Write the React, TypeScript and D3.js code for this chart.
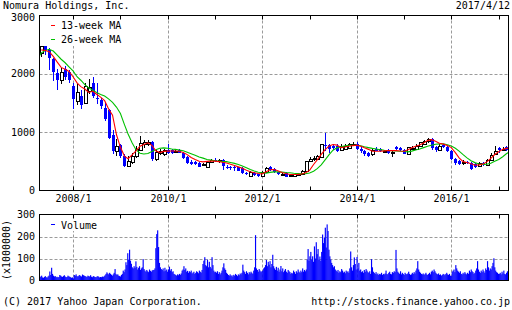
import React from "react";
import * as d3 from "d3";

const chartTitle = "Nomura Holdings, Inc.";
const chartDate = "2017/4/12";
const footerLeft = "(C) 2017 Yahoo Japan Corporation.";
const footerRight = "http://stocks.finance.yahoo.co.jp";
const volumeUnit = "(x1000000)";

const priceTicks = [0, 1000, 2000, 3000];
const priceGrid = [1000, 2000];
const volumeTicks = [0, 100, 200, 300];
const volumeGrid = [100, 200];
const labelYears = [2008, 2010, 2012, 2014, 2016];
const tickYears = [2008, 2009, 2010, 2011, 2012, 2013, 2014, 2015, 2016, 2017];
const legendNames = ["13-week MA", "26-week MA"];
const legendColors = ["#ff0000", "#00c000"];

// monthly candles, May 2007 .. Apr 2017
const opens = [
  2360, 2500, 2410, 2260, 2020, 1900, 2080, 2040,
  1800, 1530, 1620, 1500, 1700, 1850, 1580, 1560, 1420, 1380, 950, 680,
  780, 600, 420, 490, 600, 700, 800, 790, 830, 545, 640, 620,
  700, 700, 670, 690, 646, 577, 490, 490, 474, 440, 400, 480,
  530, 500, 530, 410, 400, 400, 400, 389, 300, 257, 300, 280,
  246, 320, 400, 370, 310, 270, 300, 250, 255, 270, 280, 340,
  510, 540, 535, 580, 780, 777, 770, 760, 690, 720, 730, 780,
  800, 720, 680, 640, 620, 720, 710, 670, 690, 650, 745, 730,
  700, 630, 720, 705, 765, 790, 850, 875, 740, 690, 785, 750,
  670, 540, 500, 470, 490, 474, 450, 415, 470, 445, 530, 630,
  730, 700, 750, 700,
];
const highs = [
  2550, 2550, 2440, 2280, 2080, 2100, 2130, 2060,
  1840, 1820, 1720, 1850, 1910, 1940, 1850, 1580, 1500, 1400, 1040, 880,
  800, 620, 600, 640, 760, 930, 860, 860, 850, 700, 720, 710,
  790, 720, 700, 720, 660, 590, 520, 510, 490, 470, 500, 540,
  560, 540, 545, 430, 420, 420, 410, 400, 320, 330, 320, 290,
  330, 400, 420, 380, 320, 300, 310, 280, 290, 300, 350, 510,
  570, 600, 610, 800, 990, 800, 800, 790, 790, 800, 820, 830,
  830, 740, 700, 660, 720, 740, 730, 700, 710, 690, 760, 750,
  710, 750, 760, 790, 840, 870, 900, 900, 770, 790, 800, 770,
  690, 560, 530, 520, 510, 490, 470, 480, 490, 540, 640, 760,
  750, 750, 770, 710,
];
const lows = [
  2290, 2330, 2070, 1870, 1730, 1820, 1900, 1840,
  1390, 1470, 1390, 1480, 1660, 1580, 1480, 1390, 1200, 880, 620, 600,
  560, 400, 400, 460, 560, 680, 730, 760, 500, 500, 610, 600,
  620, 620, 640, 640, 540, 460, 440, 440, 400, 420, 390, 470,
  480, 470, 345, 370, 350, 330, 330, 290, 260, 240, 250, 240,
  240, 310, 340, 300, 270, 250, 230, 240, 250, 260, 270, 330,
  490, 510, 520, 560, 680, 640, 700, 660, 680, 700, 720, 760,
  690, 650, 600, 580, 600, 670, 660, 640, 630, 570, 690, 680,
  620, 620, 700, 700, 750, 780, 820, 700, 660, 680, 730, 660,
  520, 440, 440, 440, 460, 355, 390, 400, 420, 430, 500, 610,
  650, 680, 680, 640,
];
const closes = [
  2470, 2400, 2275, 2030, 1900, 2030, 1940, 1900,
  1570, 1690, 1470, 1790, 1780, 1620, 1570, 1450, 1220, 900, 680, 760,
  600, 420, 510, 600, 720, 820, 830, 830, 545, 660, 680, 700,
  650, 650, 675, 650, 560, 474, 460, 460, 410, 450, 490, 530,
  500, 530, 420, 385, 390, 380, 340, 303, 280, 314, 260, 250,
  320, 389, 350, 310, 285, 285, 240, 265, 275, 285, 340, 500,
  540, 550, 590, 790, 760, 703, 730, 680, 770, 760, 800, 800,
  703, 680, 620, 600, 700, 680, 670, 675, 650, 665, 705, 690,
  630, 740, 730, 770, 825, 845, 880, 730, 690, 770, 745, 675,
  540, 474, 450, 480, 470, 370, 400, 470, 440, 530, 615, 685,
  700, 720, 690, 660,
];

// 13-week MA, monthly readings May 2007 .. Apr 2017
const ma13 = [
  2410, 2400, 2380, 2300, 2200, 2110, 2080, 2040,
  1950, 1845, 1780, 1740, 1680, 1700, 1650, 1600, 1540, 1400, 1290, 960,
  740, 590, 545, 610, 680, 760, 790, 817, 775, 680, 650, 670,
  675, 678, 676, 674, 650, 615, 565, 530, 500, 490, 500, 503,
  503, 495, 485, 470, 450, 428, 405, 380, 348, 320, 305, 292,
  285, 320, 355, 360, 340, 310, 290, 274, 274, 276, 284, 305,
  345, 446, 525, 620, 700, 765, 789, 778, 735, 745, 758, 770,
  777, 760, 731, 705, 674, 674, 674, 680, 686, 684, 684, 678,
  674, 700, 733, 757, 780, 815, 855, 872, 845, 810, 795, 770,
  735, 650, 560, 495, 480, 460, 434, 440, 455, 490, 550, 617,
  665, 705, 722, 735,
];
// 26-week MA, monthly readings Apr 2007 .. Apr 2017
const ma26 = [
  2250, 2360, 2400, 2420, 2390, 2320, 2250, 2190, 2120,
  2050, 1950, 1890, 1815, 1760, 1720, 1680, 1645, 1620, 1570, 1510, 1430,
  1320, 1130, 970, 820, 700, 640, 625, 635, 670, 700, 725, 730,
  725, 712, 705, 695, 680, 655, 630, 605, 575, 555, 530, 520,
  510, 503, 498, 495, 480, 465, 446, 420, 390, 360, 335, 314,
  305, 298, 310, 320, 320, 315, 308, 303, 295, 290, 286, 286,
  300, 330, 375, 440, 525, 615, 690, 731, 750, 765, 775, 777,
  777, 765, 750, 735, 722, 712, 700, 690, 686, 682, 676, 672,
  668, 663, 675, 693, 712, 735, 758, 775, 792, 800, 800, 785,
  762, 725, 675, 615, 560, 510, 478, 455, 448, 450, 468, 500,
  531, 578, 630, 670,
];

// weekly volume (millions), one array per calendar year
const vol2007 = [15, 18, 22, 14, 12, 16, 20, 15, 13, 18, 22, 41, 25, 58, 30, 22, 18, 20, 15, 17, 14, 16, 25, 22, 18, 16, 20, 24, 18, 15, 16, 22, 19, 17, 15, 12, 14, 10];
const vol2008 = [25, 22, 28, 20, 18, 22, 25, 20, 18, 27, 24, 22, 20, 18, 16, 22, 20, 18, 24, 17, 15, 20, 18, 16, 15, 18, 20, 17, 14, 16, 15, 18, 16, 20, 24, 30, 37, 32, 28, 35, 30, 26, 22, 28, 35, 52, 30, 25, 28, 22, 20, 18];
const vol2009 = [25, 30, 45, 38, 50, 83, 70, 124, 95, 140, 90, 76, 60, 55, 65, 58, 87, 62, 50, 58, 65, 48, 55, 60, 97, 52, 45, 40, 48, 42, 38, 50, 44, 40, 46, 48, 48, 55, 147, 211, 228, 152, 80, 60, 52, 48, 55, 42, 58, 45, 50, 40];
const vol2010 = [50, 63, 45, 52, 38, 42, 30, 28, 25, 22, 28, 24, 30, 26, 32, 45, 50, 65, 48, 55, 40, 44, 35, 42, 38, 45, 32, 36, 40, 30, 35, 42, 38, 33, 45, 40, 36, 48, 75, 90, 106, 70, 65, 95, 60, 85, 62, 55, 106, 70, 45, 38];
const vol2011 = [40, 35, 42, 30, 38, 28, 35, 45, 60, 78, 55, 48, 35, 30, 25, 22, 28, 20, 24, 18, 26, 22, 30, 25, 20, 28, 24, 32, 28, 35, 72, 45, 38, 30, 42, 35, 28, 38, 32, 40, 35, 30, 45, 60, 206, 55, 48, 40, 52, 45, 38, 42];
const vol2012 = [45, 55, 60, 70, 93, 65, 85, 72, 88, 60, 75, 117, 65, 55, 48, 62, 45, 58, 40, 50, 66, 42, 55, 38, 45, 52, 40, 35, 48, 42, 38, 30, 35, 32, 45, 38, 30, 42, 36, 50, 40, 35, 45, 38, 55, 40, 48, 42, 50, 95, 143, 90, 110];
const vol2013 = [130, 95, 110, 85, 155, 100, 174, 120, 143, 95, 109, 90, 130, 209, 170, 195, 240, 150, 255, 225, 140, 110, 95, 80, 70, 60, 65, 50, 45, 40, 48, 35, 42, 38, 52, 45, 36, 40, 33, 45, 38, 42, 35, 55, 132, 60, 45, 70, 105, 75, 50, 107];
const vol2014 = [55, 80, 45, 50, 38, 42, 35, 48, 40, 52, 45, 38, 35, 42, 30, 97, 60, 40, 35, 30, 38, 28, 32, 25, 30, 28, 35, 25, 30, 28, 32, 45, 30, 28, 35, 40, 30, 28, 38, 35, 42, 38, 139, 55, 40, 35, 30, 42, 28, 35, 30, 25];
const vol2015 = [35, 30, 28, 32, 40, 30, 25, 28, 35, 30, 38, 32, 45, 55, 88, 50, 40, 35, 30, 28, 32, 25, 30, 35, 28, 25, 30, 35, 28, 40, 45, 38, 50, 42, 35, 30, 28, 32, 25, 28, 22, 25, 30, 28, 24, 30, 35, 28, 25, 30, 22, 20];
const vol2016 = [40, 45, 50, 38, 70, 55, 45, 40, 35, 42, 30, 28, 35, 30, 38, 32, 28, 35, 30, 45, 38, 50, 42, 38, 30, 35, 45, 55, 88, 50, 40, 35, 45, 38, 50, 42, 35, 55, 48, 88, 60, 45, 55, 50, 65, 80, 101, 60, 45, 38, 35, 30];
const vol2017 = [30, 35, 28, 40, 32, 45, 30, 28, 35, 42, 30, 25, 30, 28];
const volumeStarts = ["2007-04-16", "2008-01-07", "2009-01-05", "2010-01-04", "2011-01-03", "2012-01-02", "2013-01-07", "2014-01-06", "2015-01-05", "2016-01-04", "2017-01-02"];
const volumeYears = [vol2007, vol2008, vol2009, vol2010, vol2011, vol2012, vol2013, vol2014, vol2015, vol2016, vol2017];

const FONT = "'DejaVu Sans Mono', 'Liberation Mono', monospace";
const BLUE = "#0000ff";
const GRID = "#9a9a9a";

export default function App() {
  const parseDay = d3.timeParse("%Y-%m-%d");
  const L = 39.5, R = 508.5, PT = 15.5, PB = 190.5, VT = 214.5, VB = 280.5;
  const x = d3.scaleTime().domain([new Date(2007, 3, 13), new Date(2017, 2, 16)]).range([39, 508.3]);
  const yP = d3.scaleLinear().domain([0, 3000]).range([PB, PT]);
  const yV = d3.scaleLinear().domain([0, 300]).range([VB, VT]);

  const months = d3.timeMonth.range(new Date(2007, 4, 1), new Date(2017, 4, 1));
  const maMonths = d3.timeMonth.range(new Date(2007, 3, 1), new Date(2017, 4, 1));

  const candles = months.map((m, i) => ({ m, o: opens[i], h: highs[i], l: lows[i], c: closes[i] }));
  const line = d3.line<[Date, number]>().x((d) => x(d[0])).y((d) => yP(d[1]));
  const ma13Path = line(months.map((m, i) => [m, ma13[i]] as [Date, number])) || "";
  const ma26Path = line(maMonths.map((m, i) => [m, ma26[i]] as [Date, number])) || "";

  const weeks: { d: Date; v: number }[] = [];
  volumeYears.forEach((vals, k) => {
    const s = parseDay(volumeStarts[k]) as Date;
    vals.forEach((v, i) => weeks.push({ d: d3.timeWeek.offset(s, i), v }));
  });

  const yearX = (y: number) => Math.round(x(new Date(y, 0, 1))) + 0.5;

  const textProps = { fontFamily: FONT, fontSize: 10, fill: "#000" } as const;

  return (
    <svg width={512} height={310} style={{ position: "absolute", left: 0, top: 0, background: "#fff" }}>
      <defs>
        <clipPath id="pclip"><rect x={L} y={PT} width={R - L} height={PB - PT} /></clipPath>
        <clipPath id="vclip"><rect x={L} y={VT} width={R - L} height={VB - VT} /></clipPath>
      </defs>
      <rect x={0} y={0} width={512} height={310} fill="#fff" />

      {/* header */}
      <text x={3} y={9} {...textProps}>{chartTitle}</text>
      <text x={510} y={9} textAnchor="end" {...textProps}>{chartDate}</text>

      {/* price grid */}
      {priceGrid.map((v) => (
        <line key={"pg" + v} x1={L} x2={R} y1={Math.round(yP(v)) + 0.5} y2={Math.round(yP(v)) + 0.5} stroke={GRID} strokeDasharray="3,2" />
      ))}
      {labelYears.map((yr) => (
        <line key={"pv" + yr} x1={yearX(yr)} x2={yearX(yr)} y1={PT} y2={PB} stroke={GRID} strokeDasharray="3,2" />
      ))}

      {/* candles */}
      <g clipPath="url(#pclip)">
        {candles.map((d, i) => {
          const k = Math.round(x(d.m));
          const up = d.c >= d.o;
          const top = Math.round(yP(Math.max(d.o, d.c)));
          const bot = Math.max(top + 1, Math.round(yP(Math.min(d.o, d.c))));
          const hi = Math.round(yP(d.h));
          const lo = Math.round(yP(d.l));
          if (up) {
            return (
              <g key={i}>
                <line x1={k + 0.5} x2={k + 0.5} y1={hi} y2={lo} stroke="#000" />
                <rect x={k - 0.5} y={top + 0.5} width={3} height={Math.max(1, bot - top)} fill="#fff" stroke="#000" />
              </g>
            );
          }
          return (
            <g key={i}>
              <line x1={k + 0.5} x2={k + 0.5} y1={hi} y2={lo} stroke={BLUE} />
              <rect x={k - 1} y={top} width={3} height={Math.max(1, bot - top)} fill={BLUE} />
            </g>
          );
        })}
        <path d={ma26Path} fill="none" stroke={legendColors[1]} strokeWidth={1.1} />
        <path d={ma13Path} fill="none" stroke={legendColors[0]} strokeWidth={1.1} />
      </g>

      {/* price legend */}
      <rect x={40} y={16} width={84} height={30} fill="#fff" />
      {legendNames.map((n, i) => (
        <g key={n}>
          <line x1={51} x2={55} y1={25.5 + i * 14} y2={25.5 + i * 14} stroke={legendColors[i]} />
          <text x={61} y={29 + i * 14} {...textProps}>{n}</text>
        </g>
      ))}

      {/* price frame & ticks */}
      <rect x={L} y={PT} width={R - L} height={PB - PT} fill="none" stroke="#000" />
      {tickYears.map((yr) => (
        <g key={"pt" + yr}>
          <line x1={yearX(yr)} x2={yearX(yr)} y1={PT} y2={PT + 4} stroke="#000" />
          <line x1={yearX(yr)} x2={yearX(yr)} y1={PB - 4} y2={PB} stroke="#000" />
        </g>
      ))}
      {priceTicks.map((v) => (
        <text key={"pl" + v} x={35} y={v === 3000 ? 21 : yP(v)} dy={v === 3000 ? 0 : "0.36em"} textAnchor="end" {...textProps}>{v}</text>
      ))}
      {labelYears.map((yr) => (
        <text key={"xl" + yr} x={yearX(yr)} y={202} textAnchor="middle" {...textProps}>{yr + "/1"}</text>
      ))}

      {/* volume grid */}
      {volumeGrid.map((v) => (
        <line key={"vg" + v} x1={L} x2={R} y1={Math.round(yV(v)) + 0.5} y2={Math.round(yV(v)) + 0.5} stroke={GRID} strokeDasharray="3,2" />
      ))}
      {labelYears.map((yr) => (
        <line key={"vv" + yr} x1={yearX(yr)} x2={yearX(yr)} y1={VT} y2={VB} stroke={GRID} strokeDasharray="3,2" />
      ))}
      <g clipPath="url(#vclip)">
        {weeks.map((w, i) => (
          <rect key={i} x={x(w.d) - 0.1} width={1.15} y={yV(w.v)} height={VB - yV(w.v)} fill={BLUE} />
        ))}
      </g>
      <rect x={40} y={215} width={62} height={16} fill="#fff" />
      <line x1={51} x2={55} y1={224.5} y2={224.5} stroke={BLUE} />
      <text x={61} y={229} {...textProps}>Volume</text>
      <rect x={L} y={VT} width={R - L} height={VB - VT} fill="none" stroke="#000" />
      {tickYears.map((yr) => (
        <line key={"vt" + yr} x1={yearX(yr)} x2={yearX(yr)} y1={VT} y2={VT + 4} stroke="#000" />
      ))}
      {volumeTicks.map((v) => (
        <text key={"vl" + v} x={35} y={yV(v)} dy="0.36em" textAnchor="end" {...textProps}>{v}</text>
      ))}
      <text transform="translate(10,250) rotate(-90)" textAnchor="middle" {...textProps}>{volumeUnit}</text>

      {/* footer */}
      <text x={3} y={305} {...textProps}>{footerLeft}</text>
      <text x={510} y={305} textAnchor="end" {...textProps}>{footerRight}</text>
    </svg>
  );
}
